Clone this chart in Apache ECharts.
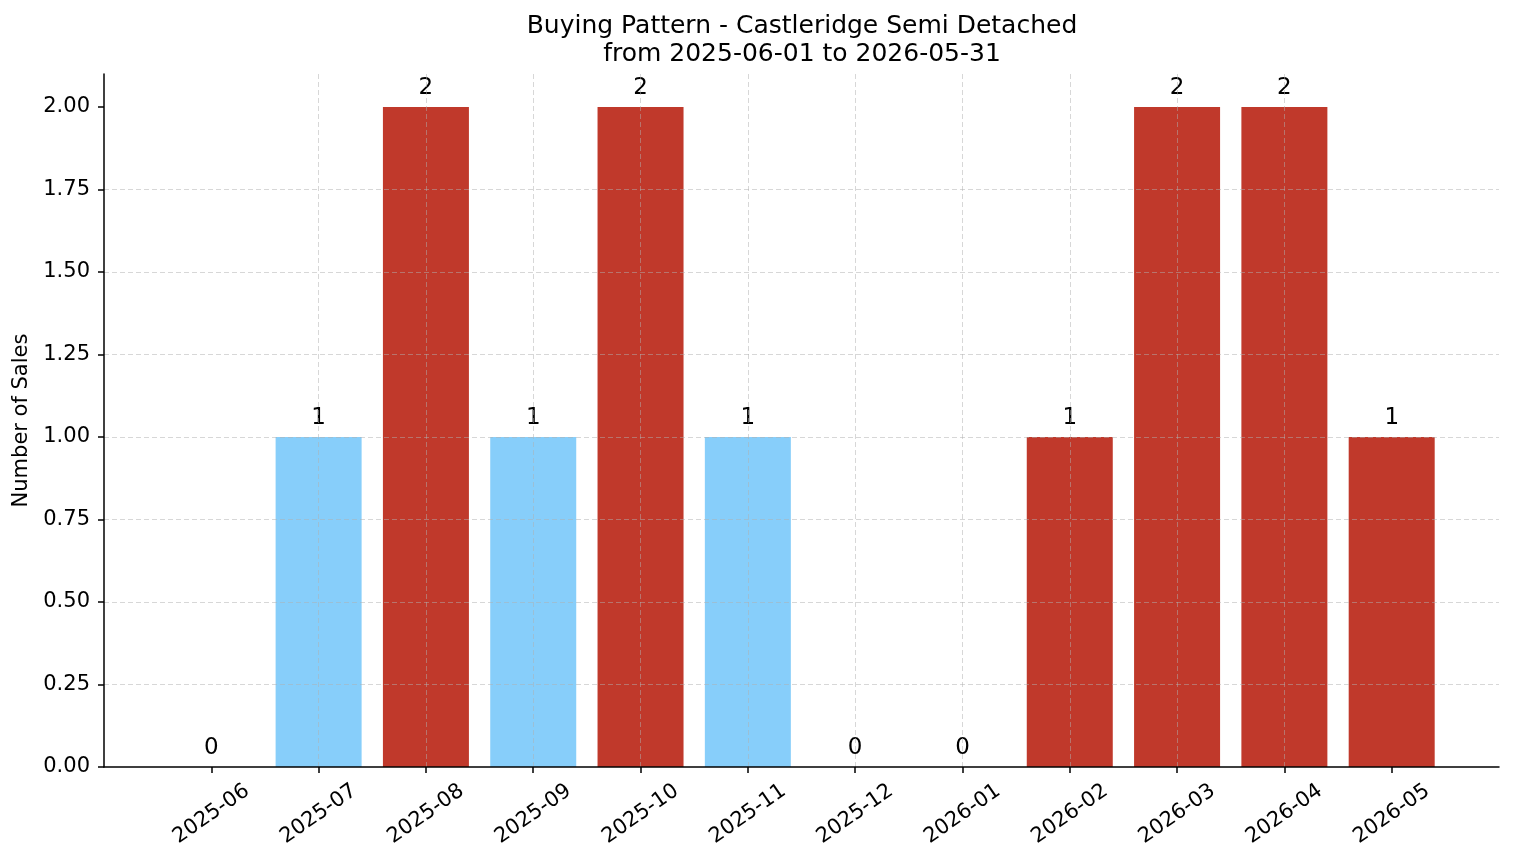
<!DOCTYPE html>
<html>
<head>
<meta charset="utf-8">
<script src="https://cdn.jsdelivr.net/npm/echarts@6/dist/echarts.min.js"></script>
<style>
html,body{margin:0;padding:0;background:#fff;}
#chart{width:1514px;height:863px;}
</style>
</head>
<body>
<div id="chart"></div>
<script>
// ---- data ----
const categories = ['2025-06','2025-07','2025-08','2025-09','2025-10','2025-11','2025-12','2026-01','2026-02','2026-03','2026-04','2026-05'];
const sales = [0, 1, 2, 1, 2, 1, 0, 0, 1, 2, 2, 1];
const highlighted = [false, false, true, false, true, false, false, false, true, true, true, true];
const yTicks = [0, 0.25, 0.5, 0.75, 1.0, 1.25, 1.5, 1.75, 2.0];
const titleLines = ['Buying Pattern - Castleridge Semi Detached', 'from 2025-06-01 to 2026-05-31'];

// ---- styles ----
const RED = '#c0392b', BLUE = '#87cefa';
const FONT = 'DejaVu Sans';
const xIdx = categories.map((c, i) => i);

const chart = echarts.init(document.getElementById('chart'), null, {renderer: 'canvas'});
const gridLine = {show: true, showMinLine: false, showMaxLine: false,
  lineStyle: {color: '#b0b0b0', opacity: 0.5, type: [5, 3], width: 1}};

chart.setOption({
  backgroundColor: '#fff',
  animation: false,
  title: {
    text: titleLines.join('\n'),
    left: 797, top: 7, textAlign: 'center',
    textStyle: {fontFamily: FONT, fontSize: 25, fontWeight: 'normal', color: '#000', lineHeight: 28}
  },
  grid: {left: 104, right: 15, top: 74, bottom: 96, containLabel: false},
  xAxis: {
    type: 'value', min: -1, max: 12, interval: 1, z: 5,
    axisLine: {show: true, onZero: false, lineStyle: {color: '#000', width: 1.5}},
    axisTick: {show: true, customValues: xIdx, length: 6, lineStyle: {color: '#000', width: 1.5}},
    axisLabel: {
      customValues: xIdx, rotate: 35, align: 'center', verticalAlign: 'middle', margin: 47,
      fontFamily: FONT, fontSize: 21, color: '#000',
      formatter: v => categories[Math.round(v)] ?? ''
    },
    splitLine: gridLine
  },
  yAxis: {
    type: 'value', min: 0, max: 2.1, interval: 0.25, z: 5,
    name: 'Number of Sales', nameLocation: 'middle', nameGap: 70, nameRotate: 90,
    nameTextStyle: {fontFamily: FONT, fontSize: 21, color: '#000'},
    axisLine: {show: true, onZero: false, lineStyle: {color: '#000', width: 1.5}},
    axisTick: {show: true, customValues: yTicks, length: 6, lineStyle: {color: '#000', width: 1.5}},
    axisLabel: {customValues: yTicks, fontFamily: FONT, fontSize: 21, color: '#000', margin: 14,
      formatter: v => v.toFixed(2)},
    splitLine: gridLine
  },
  series: [{
    type: 'bar',
    barWidth: 86,
    data: sales.map((v, i) => ({value: [i, v], itemStyle: {color: highlighted[i] ? RED : BLUE}})),
    label: {show: true, position: 'top', distance: 7, fontFamily: FONT, fontSize: 23, color: '#000',
      formatter: p => String(p.value[1])}
  }]
});
</script>
</body>
</html>
